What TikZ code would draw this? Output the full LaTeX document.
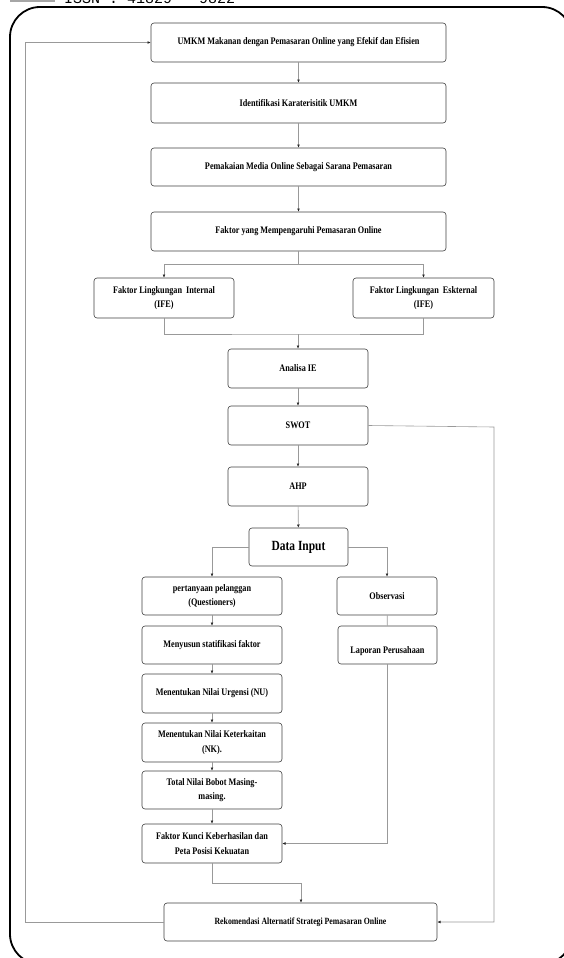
\documentclass[tikz,border=0pt]{standalone}
\usepackage{fontspec}
\usetikzlibrary{arrows.meta}
\newfontfamily\cond[FakeStretch=0.82]{Liberation Serif}
\newfontfamily\hdrmono{Liberation Mono}
\tikzset{
  box/.style={draw=black!75, rounded corners=3pt, line width=0.6pt, fill=white,
    font=\cond\bfseries\fontsize{10}{14.5}\selectfont, align=center, inner sep=1pt},
  conn/.style={draw=black!40, line width=0.6pt},
  arr/.style={conn, -{Latex[length=3.2pt,width=2.8pt,color=black!85]}}
}
\begin{document}
\begin{tikzpicture}[x=1pt,y=-1pt]
\useasboundingbox (0,0) rectangle (564,958);
% header remnants
\fill[black!35] (10,-1) rectangle (55,2);
\node[anchor=base west, inner sep=0, font=\hdrmono\fontsize{15}{15}\selectfont] (hdr) at (64,4) {ISSN : 41829 - 9822};
% outer frame
\draw[line width=1.8pt, rounded corners=30pt] (10,7) rectangle (572,964);

% main column
\node[box, minimum width=295pt, minimum height=39pt] (b1) at (298.5,42.5) {UMKM Makanan dengan Pemasaran Online yang Efekif dan Efisien};
\node[box, minimum width=295pt, minimum height=40pt] (b2) at (298.5,103) {Identifikasi Karaterisitik UMKM};
\node[box, minimum width=295pt, minimum height=38pt] (b3) at (298.5,167) {Pemakaian Media Online Sebagai Sarana Pemasaran};
\node[box, minimum width=295pt, minimum height=39pt] (b4) at (298.5,231.5) {Faktor yang Mempengaruhi Pemasaran Online};

\node[box, minimum width=140pt, minimum height=40pt] (int) at (164,298) {Faktor Lingkungan \ Internal\\(IFE)};
\node[box, minimum width=141pt, minimum height=40pt] (ext) at (423.5,298) {Faktor Lingkungan \ Eskternal\\(IFE)};

\node[box, minimum width=140pt, minimum height=39pt] (ie) at (298,368.5) {Analisa IE};
\node[box, minimum width=140pt, minimum height=39pt] (swot) at (298,425.5) {SWOT};
\node[box, minimum width=140pt, minimum height=39pt] (ahp) at (298,486.5) {AHP};
\node[box, minimum width=99pt, minimum height=38pt, font=\cond\bfseries\fontsize{14}{16}\selectfont] (di) at (298.5,547) {Data Input};

\node[box, minimum width=140pt, minimum height=38pt] (pq) at (212,596) {pertanyaan pelanggan\\(Questioners)};
\node[box, minimum width=100pt, minimum height=38pt] (obs) at (387,596) {Observasi};
\node[box, minimum width=140pt, minimum height=38pt] (men) at (212,645) {Menyusun statifikasi faktor};
\node[box, minimum width=99pt, minimum height=38pt, text height=19pt] (lap) at (387.5,645) {Laporan Perusahaan};
\node[box, minimum width=140pt, minimum height=39pt] (nu) at (212,693.5) {Menentukan Nilai Urgensi (NU)};
\node[box, minimum width=140pt, minimum height=39pt] (nk) at (212,742.5) {Menentukan Nilai Keterkaitan\\(NK).};
\node[box, minimum width=140pt, minimum height=38pt] (tot) at (212,790) {Total Nilai Bobot Masing-\\masing.};
\node[box, minimum width=140pt, minimum height=39pt] (fk) at (212,843.5) {Faktor Kunci Keberhasilan dan\\Peta Posisi Kekuatan};
\node[box, minimum width=273pt, minimum height=38pt, font=\cond\bfseries\fontsize{9.5}{11}\selectfont] (rek) at (300.5,922) {Rekomendasi Alternatif Strategi Pemasaran Online};

% helper coordinates
\coordinate (split) at (298.5,264);
\coordinate (merge) at (298,334);
\coordinate (fkturn) at (301,883);
\coordinate (rightx) at (494,427);
\coordinate (leftx) at (25,922);

% connectors
\draw[arr] (b1) -- (b2);
\draw[arr] (b2) -- (b3);
\draw[arr] (b3) -- (b4);
\draw[conn] (b4.south) -- (split);
\draw[arr] (split) -| (int.north);
\draw[arr] (split) -| (ext.north);
\draw[conn] (int.south) |- (merge) -| (ext.south);
\draw[arr] (merge) -- (ie.north);
\draw[arr] (ie) -- (swot);
\draw[arr] (swot) -- (ahp);
\draw[arr] (ahp) -- (di);
\draw[arr] (di.west) -| (pq.north);
\draw[arr] (di.east) -| (obs.north);
\draw[conn] (obs) -- (lap);
\draw[arr] (lap.south) |- (fk.east);
\draw[arr] (pq) -- (men);
\draw[arr] (men) -- (nu);
\draw[arr] (nu) -- (nk);
\draw[arr] (nk) -- (tot);
\draw[arr] (tot) -- (fk);
\draw[arr] (fk.south) |- (fkturn) -- (fkturn |- rek.north);
\draw[arr] (swot.east) -- (rightx) |- (rek.east);
\draw[arr] (rek.west) -- (leftx) |- (b1.west);
\end{tikzpicture}
\end{document}
